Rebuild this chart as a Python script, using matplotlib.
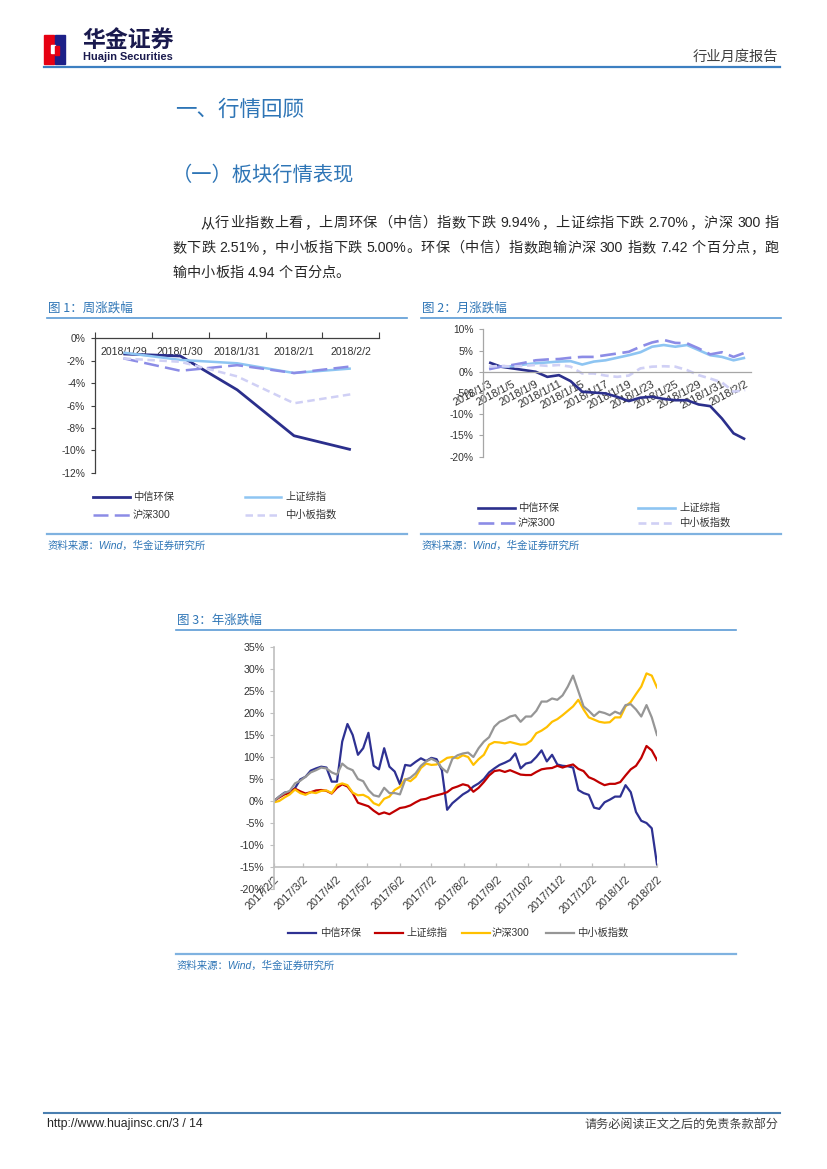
import re
import numpy as np
import pandas as pd
import matplotlib
matplotlib.use('Agg')
import matplotlib.pyplot as plt
from matplotlib.lines import Line2D
from matplotlib.patches import Rectangle

# ---------------- data ----------------
series_names = ['中信环保', '上证综指', '沪深300', '中小板指数']

# Figure 1: weekly change (%)
week_dates = ['2018/1/29', '2018/1/30', '2018/1/31', '2018/2/1', '2018/2/2']
week_env = [-1.40, -1.58, -4.60, -8.70, -9.94]
week_sh = [-1.28, -1.93, -2.23, -3.10, -2.70]
week_hs300 = [-1.79, -2.90, -2.40, -3.10, -2.51]
week_sme = [-1.80, -2.10, -3.40, -5.80, -5.00]

# Figure 2: monthly change (%)
month_dates = ['2018/1/3', '2018/1/4', '2018/1/5', '2018/1/8', '2018/1/9', '2018/1/10',
               '2018/1/11', '2018/1/12', '2018/1/15', '2018/1/16', '2018/1/17', '2018/1/18',
               '2018/1/19', '2018/1/22', '2018/1/23', '2018/1/24', '2018/1/25', '2018/1/26',
               '2018/1/29', '2018/1/30', '2018/1/31', '2018/2/1', '2018/2/2']
month_env = [2.2, 1.2, 0.8, 0.4, 0.0, -1.2, -0.8, -2.2, -4.7, -4.9, -5.1, -5.9,
             -6.9, -6.1, -5.9, -6.4, -6.7, -6.7, -7.7, -8.1, -11.0, -14.5, -15.9]
month_sh = [0.8, 1.2, 1.3, 1.7, 2.0, 2.2, 2.4, 2.5, 1.7, 2.4, 2.7, 3.3,
            3.9, 4.6, 5.9, 6.3, 5.9, 6.3, 5.1, 3.9, 3.5, 2.7, 3.3]
month_hs300 = [0.6, 1.2, 1.6, 2.1, 2.7, 2.9, 3.0, 3.3, 3.5, 3.5, 3.9, 4.3,
               4.7, 5.9, 6.9, 7.5, 6.8, 6.7, 5.5, 4.1, 4.6, 3.5, 4.5]
month_sme = [1.2, 1.4, 1.2, 1.4, 1.6, 1.4, 1.6, 1.2, -0.4, -0.4, -0.9, -1.2,
             -0.9, 0.8, 1.2, 1.3, 1.2, 0.4, -0.8, -1.6, -2.5, -4.7, -4.3]

# Figure 3: yearly change (%), sampled every 5 calendar days from 2017/2/2 to 2018/2/2
year_dates = pd.date_range('2017-02-02', '2018-02-02', freq='5D')
year_env = [0, 1.0, 1.9, 2.1, 2.9, 4.9, 5.5, 6.9, 7.4, 7.8, 7.6, 4.4, 4.4, 13.5, 17.5,
            15.0, 10.5, 12.0, 15.5, 8.0, 7.2, 12.0, 7.8, 6.7, 3.8, 8.2, 8.0, 8.9, 9.7,
            9.1, 9.8, 9.5, 7.0, -2.0, -0.5, 0.5, 1.5,
            2.2, 3.3, 4.0, 5.0, 6.5, 7.4, 8.2, 8.7, 9.3, 10.8, 7.4, 8.5, 8.8, 10.0, 11.5,
            9.0, 10.5, 8.3, 8.0, 7.9, 7.6, 2.5, 1.8, 1.4, -1.5, -1.8, -0.3, 0.3, 1.0, 1.0,
            3.6, 2.0, -2.5, -4.5, -5.0, -6.2, -14.4]
year_sh = [0, 0.8, 1.5, 1.8, 2.8, 2.2, 1.7, 2.0, 2.4, 2.5, 2.3, 1.7, 3.0, 3.8, 3.3,
           1.8, -0.4, -0.8, -1.2, -2.2, -3.0, -2.6, -3.0, -2.3, -1.6, -1.4, -1.0, -0.3,
           0.3, 0.5, 1.0, 1.3, 1.6, 2.0, 2.9, 3.3, 3.8,
           3.5, 2.1, 3.0, 4.3, 5.8, 6.8, 7.0, 6.6, 7.0, 6.5, 6.0, 5.9, 5.9, 6.6, 7.2,
           7.4, 7.5, 8.0, 7.6, 8.0, 8.3, 7.3, 6.8, 5.4, 4.9, 4.2, 3.6, 3.9, 3.9, 4.3,
           5.8, 7.2, 8.0, 9.8, 12.5, 11.5, 9.3]
year_hs300 = [-0.3, 0.0, 0.8, 1.5, 2.6, 1.8, 1.4, 2.0, 1.8, 2.3, 2.4, 1.8, 3.6, 4.0, 3.6,
              1.9, 1.3, 1.4, 0.8, -0.5, -1.0, 0.5, 1.0, 2.5, 3.2, 5.0, 4.5, 5.5, 7.5,
              8.5, 8.2, 8.3, 9.0, 9.8, 10.0, 9.7, 10.4,
              10.0, 8.2, 9.5, 10.5, 12.8, 13.4, 13.3, 13.1, 13.4, 13.1, 12.8, 12.9, 13.7,
              15.4, 16.0, 16.8, 18.0, 18.6, 19.5, 20.5, 21.5, 23.0, 20.8, 19.0, 18.5, 18.0,
              17.8, 17.9, 19.0, 19.0, 21.5, 22.5, 24.3, 26.0, 29.0, 28.5, 25.8]
year_sme = [0.0, 1.0, 1.8, 2.3, 4.0, 4.6, 5.5, 6.5, 7.0, 7.6, 7.4, 6.5, 6.0, 8.5, 7.5,
            7.0, 5.0, 4.5, 2.5, 1.3, 1.0, 3.0, 1.8, 1.8, 1.5, 4.8, 5.3, 6.3, 8.0, 9.0,
            9.6, 9.0, 7.5, 6.5, 9.6, 10.4, 10.8,
            11.0, 10.0, 12.0, 13.5, 14.5, 16.9, 18.0, 18.5, 19.2, 19.5, 18.0, 19.2, 19.2,
            20.5, 22.6, 22.6, 23.3, 23.0, 24.0, 26.0, 28.5, 25.0, 21.5, 20.5, 19.3, 20.3,
            20.0, 19.5, 20.3, 19.8, 21.8, 22.0, 20.8, 19.2, 21.8, 19.0, 15.0]
year_ticks = ['2017/2/2', '2017/3/2', '2017/4/2', '2017/5/2', '2017/6/2', '2017/7/2',
              '2017/8/2', '2017/9/2', '2017/10/2', '2017/11/2', '2017/12/2', '2018/1/2',
              '2018/2/2']

# ---------------- styles ----------------
W, H = 827, 1169
CJK = ['Noto Sans CJK SC', 'DejaVu Sans']
MIX = ['Liberation Sans', 'Noto Sans CJK SC', 'DejaVu Sans']
BLUE_T = '#2E75B6'
RULE = '#5B9BD5'
TXT = '#333333'

C1 = {'env': '#2B2F8C', 'sh': '#8EC5F2', 'hs': '#8C8CE6', 'sme': '#D0D0F5'}
LS1 = {'env': '-', 'sh': '-', 'hs': (0, (6, 2.5)), 'sme': (0, (3, 1.8))}
C3 = {'env': '#2E3192', 'sh': '#C00000', 'hs': '#FFC000', 'sme': '#969696'}

plt.rcParams['font.family'] = MIX
fig = plt.figure(figsize=(W / 100, H / 100), dpi=100)
renderer = fig.canvas.get_renderer()


def fx(x):
    return x / W


def fy(y):
    return 1 - y / H


def put(x, y, s, size, color=TXT, ha='left', va='center', family=MIX, **kw):
    return fig.text(fx(x), fy(y), s, fontsize=size, color=color, ha=ha, va=va,
                    family=family, **kw)


def hline(x0, x1, y, color, lw, **kw):
    fig.add_artist(Line2D([fx(x0), fx(x1)], [fy(y), fy(y)], color=color, lw=lw,
                          transform=fig.transFigure, **kw))


def justify(x0, x1, y, s, size, color):
    toks = re.findall(r'[A-Za-z0-9.%]+| |.', s)
    ws = []
    for t in toks:
        if t == ' ':
            ws.append(size * 100 / 72 * 0.22)
            continue
        tt = put(0, 0, t, size, va='baseline')
        ws.append(tt.get_window_extent(renderer).width)
        tt.remove()
    gap = (x1 - x0 - sum(ws)) / (len(toks) - 1)
    x = x0
    for t, w in zip(toks, ws):
        if t != ' ':
            put(x, y, t, size, color=color, va='baseline')
        x += w + gap


# ---------------- header ----------------
fig.add_artist(Rectangle((fx(44), fy(64)), 10 / W, 29 / H, color='#E60012',
                         transform=fig.transFigure))
fig.add_artist(Rectangle((fx(55), fy(64)), 10 / W, 29 / H, color='#1D2088',
                         transform=fig.transFigure))
fig.add_artist(Rectangle((fx(51), fy(53)), 4 / W, 8 / H, color='white',
                         transform=fig.transFigure))
fig.add_artist(Rectangle((fx(55), fy(55)), 4 / W, 9 / H, color='#E60012',
                         transform=fig.transFigure))
put(82, 41, '华金证券', 16.5, color='#1A1A4E', family=CJK, weight='bold')
put(83, 57, 'Huajin Securities', 7.9, color='#1A1A4E',
    family=['Liberation Sans Narrow', 'Liberation Sans'], weight='bold')
put(778, 57, '行业月度报告', 10.3, color='#404040', ha='right', family=CJK)
hline(44, 780, 67, '#3C7FC1', 1.6)

# ---------------- headings and body ----------------
put(175, 110, '一、行情回顾', 15.5, color=BLUE_T, family=CJK)
put(172, 175, '（一）板块行情表现', 14.6, color=BLUE_T, family=CJK)
justify(200, 779, 227,
        '从行业指数上看，上周环保（中信）指数下跌 9.94%，上证综指下跌 2.70%，沪深 300 指',
        10.2, '#262626')
justify(172, 779, 252,
        '数下跌 2.51%，中小板指下跌 5.00%。环保（中信）指数跑输沪深 300 指数 7.42 个百分点，跑',
        10.2, '#262626')
justify(172, 172 + 178, 277, '输中小板指 4.94 个百分点。', 10.2, '#262626')

# ---------------- chart titles, rules, sources ----------------
for (x0, x1, ty, title) in [(47, 407, 308, '图 1：周涨跌幅'),
                            (421, 781, 308, '图 2：月涨跌幅'),
                            (176, 736, 620, '图 3：年涨跌幅')]:
    put(x0 + 1, ty, title, 9, color=BLUE_T, family=CJK)
    hline(x0, x1, ty + 10, RULE, 1.2)

for (x0, x1, ry) in [(47, 407, 534), (421, 781, 534), (176, 736, 954)]:
    hline(x0, x1, ry, '#7FB2E0', 1.6)
    put(x0 + 1, ry + 12, '资料来源：Wind，华金证券研究所', 7.5, color=BLUE_T, style='italic')


def legend_entry(x0, x1, y, color, ls, lw, label, tx):
    fig.add_artist(Line2D([fx(x0), fx(x1)], [fy(y), fy(y)], color=color, lw=lw, ls=ls,
                          transform=fig.transFigure))
    put(tx, y, label, 7.4, color=TXT)


def style_axis(ax, axcol):
    for s in ['top', 'right']:
        ax.spines[s].set_visible(False)
    for s in ['left', 'bottom']:
        ax.spines[s].set_color(axcol)
        ax.spines[s].set_linewidth(0.9)
    ax.tick_params(axis='y', length=3, width=0.8, color=axcol, pad=4,
                   labelsize=7.4, labelcolor=TXT)
    ax.set_facecolor('none')


pct = lambda v: f'{v:g}%'

# ---------------- chart 1 ----------------
ax1 = fig.add_axes([fx(95), fy(472.7), 284.3 / W, (472.7 - 338.3) / H])
x1 = np.arange(len(week_dates))
for key, vals in [('env', week_env), ('sh', week_sh), ('hs', week_hs300), ('sme', week_sme)]:
    ax1.plot(x1, vals, color=C1[key], ls=LS1[key], lw=2.0 if key == 'env' else 1.8,
             solid_capstyle='butt', dash_capstyle='butt')
ax1.set_xlim(-0.5, len(week_dates) - 0.5)
ax1.set_ylim(-12, 0)
style_axis(ax1, '#404040')
ax1.spines['bottom'].set_position(('data', 0))
yt = list(range(-12, 1, 2))
ax1.set_yticks(yt)
ax1.set_yticklabels([pct(v) for v in yt])
ax1.set_xticks(np.arange(-0.5, len(week_dates), 1))
ax1.set_xticklabels([])
ax1.set_xticks(x1, minor=True)
ax1.set_xticklabels(week_dates, minor=True)
ax1.tick_params(axis='x', which='major', direction='in', length=4, width=0.8, color='#404040')
ax1.tick_params(axis='x', which='minor', length=0, pad=6, labelsize=7.6, labelcolor=TXT)

legend_entry(93, 130, 497, C1['env'], LS1['env'], 2.0, series_names[0], 133)
legend_entry(245, 281, 497, C1['sh'], LS1['sh'], 1.8, series_names[1], 285)
legend_entry(93, 130, 515, C1['hs'], LS1['hs'], 1.8, series_names[2], 133)
legend_entry(245, 281, 515, C1['sme'], LS1['sme'], 1.8, series_names[3], 285)

# ---------------- chart 2 ----------------
ax2 = fig.add_axes([fx(483.3), fy(456.7), (751 - 483.3) / W, (456.7 - 329.3) / H])
x2 = np.arange(len(month_dates))
for key, vals in [('env', month_env), ('sh', month_sh), ('hs', month_hs300), ('sme', month_sme)]:
    ax2.plot(x2, vals, color=C1[key], ls=LS1[key], lw=1.9,
             solid_capstyle='butt', dash_capstyle='butt')
ax2.set_xlim(-0.5, len(month_dates) - 0.5)
ax2.set_ylim(-20, 10)
style_axis(ax2, '#A6A6A6')
ax2.spines['bottom'].set_position(('data', 0))
yt2 = list(range(-20, 11, 5))
ax2.set_yticks(yt2)
ax2.set_yticklabels([pct(v) for v in yt2])
ax2.set_xticks(x2[::2])
ax2.set_xticklabels(month_dates[::2], rotation=28, ha='right', va='top',
                    rotation_mode='anchor')
ax2.tick_params(axis='x', length=0, pad=5, labelsize=7.9, labelcolor=TXT)

legend_entry(478, 515, 508, C1['env'], LS1['env'], 1.9, series_names[0], 518)
legend_entry(638, 675, 508, C1['sh'], LS1['sh'], 1.9, series_names[1], 679)
legend_entry(478, 515, 523, C1['hs'], LS1['hs'], 1.9, series_names[2], 518)
legend_entry(638, 675, 523, C1['sme'], LS1['sme'], 1.9, series_names[3], 679)

# ---------------- chart 3 ----------------
ax3 = fig.add_axes([fx(274), fy(889), 383 / W, 242 / H])
for key, vals in [('env', year_env), ('sh', year_sh), ('hs', year_hs300), ('sme', year_sme)]:
    ax3.plot(year_dates, vals, color=C3[key], lw=1.6)
ax3.set_xlim(year_dates[0], year_dates[-1])
ax3.set_ylim(-20, 35)
style_axis(ax3, '#BFBFBF')
ax3.spines['left'].set_linewidth(1.2)
ax3.spines['bottom'].set_linewidth(1.2)
ax3.spines['bottom'].set_position(('data', -15))
yt3 = list(range(-20, 36, 5))
ax3.set_yticks(yt3)
ax3.set_yticklabels([pct(v) for v in yt3])
ax3.tick_params(axis='y', labelsize=7.7)
ax3.set_xticks(pd.to_datetime(year_ticks, format='%Y/%m/%d'))
ax3.set_xticklabels(year_ticks, rotation=45, ha='right', va='top', rotation_mode='anchor')
ax3.tick_params(axis='x', direction='in', length=3, width=0.9, color='#BFBFBF', pad=5,
                labelsize=7.9, labelcolor=TXT)

for i, (key, lx0, tx) in enumerate([('env', 288, 320), ('sh', 375, 406),
                                    ('hs', 462, 492), ('sme', 546, 577)]):
    legend_entry(lx0, lx0 + 28, 933, C3[key], '-', 1.6, series_names[i], tx)

# ---------------- footer ----------------
hline(44, 780, 1113, '#4A7FB0', 1.5)
put(47, 1124, 'http://www.huajinsc.cn/3 / 14', 8.8, color='#262626',
    family=['Liberation Sans Narrow', 'Liberation Sans'])
put(778, 1124, '请务必阅读正文之后的免责条款部分', 8.7, color='#404040', ha='right', family=CJK)

fig.savefig('out.png', dpi=100)
